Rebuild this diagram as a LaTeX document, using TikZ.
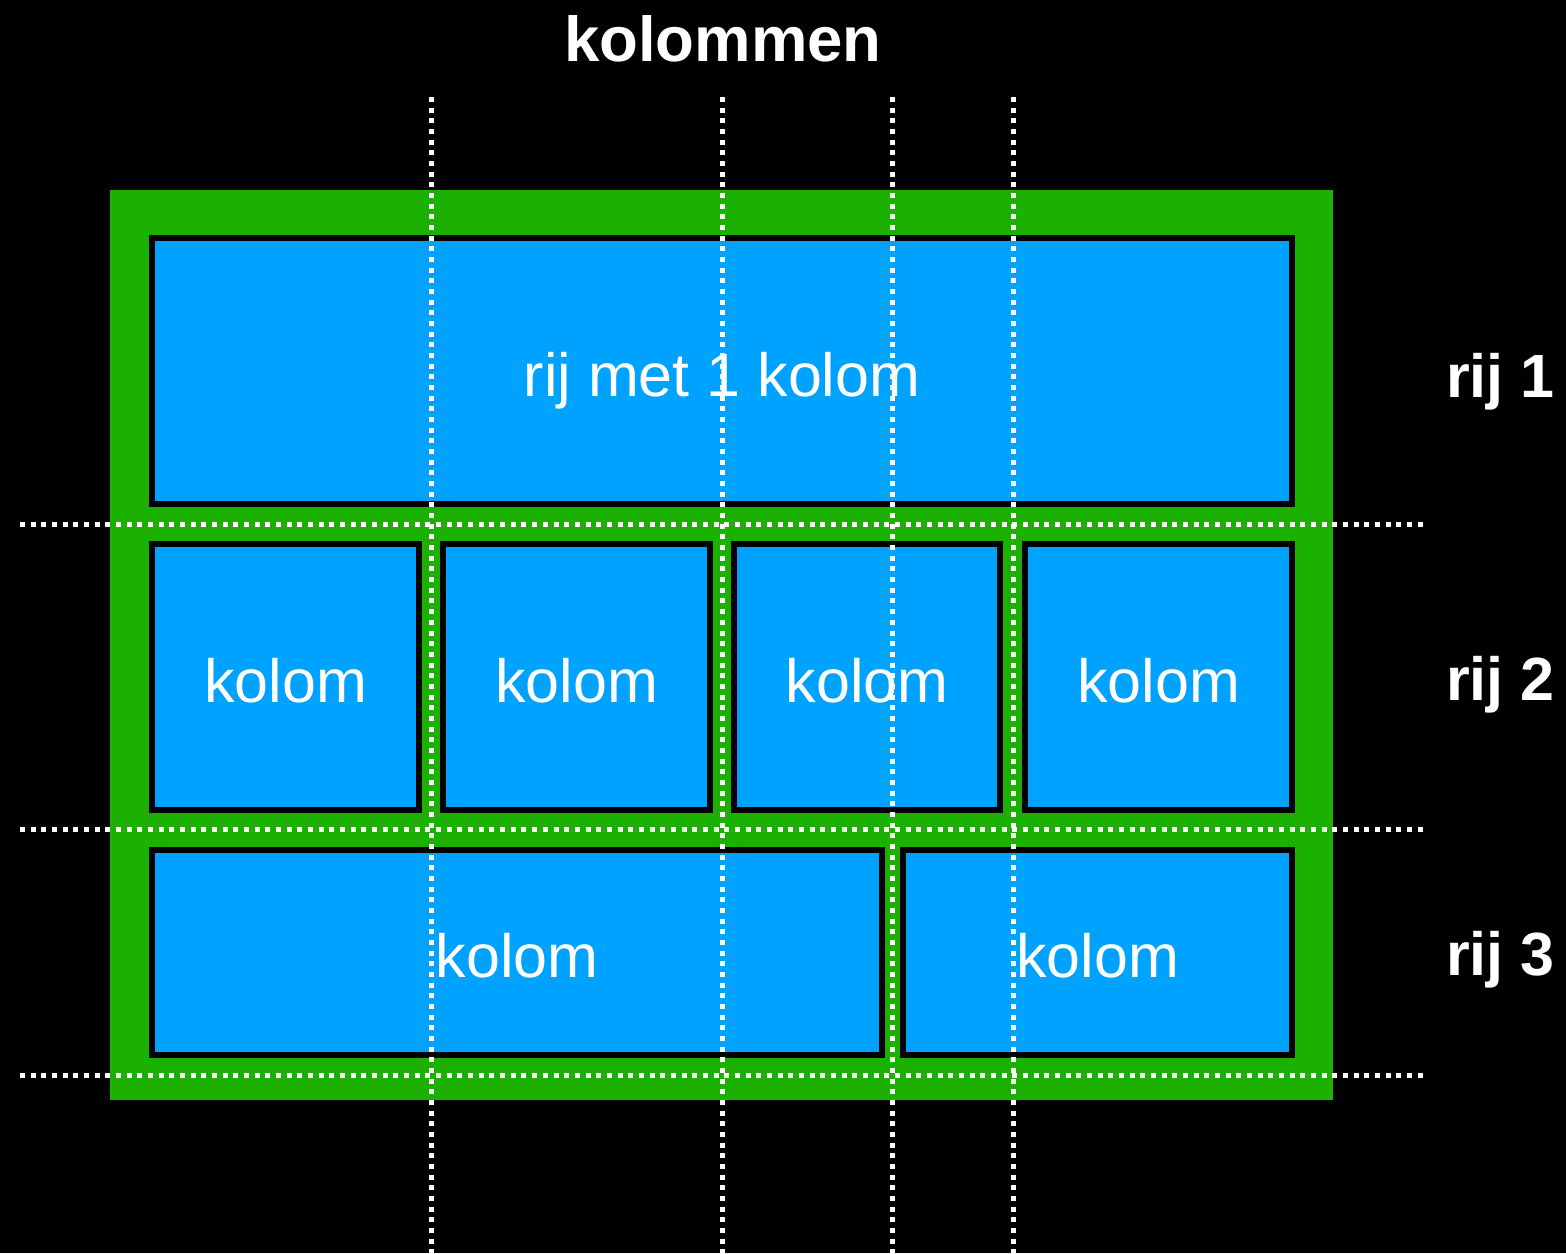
\documentclass[tikz,border=0pt]{standalone}
\usepackage{fontspec}
\setmainfont{Liberation Sans}
\definecolor{gridgreen}{RGB}{28,176,0}
\definecolor{cellblue}{RGB}{0,162,255}
\tikzset{
  cell/.style={draw=black, fill=cellblue, line width=6pt, text=white, inner sep=0pt, outer sep=0pt,
    font=\fontsize{61}{70}\selectfont, text height=50pt, text depth=0pt},
  rowlabel/.style={text=white, anchor=base west, inner sep=0pt, font=\fontsize{61}{70}\selectfont\bfseries},
  guide/.style={draw=white, line width=5pt, dash pattern=on 5pt off 5.67pt}
}
\begin{document}
\begin{tikzpicture}[x=1pt,y=-1pt]
\fill[black] (0,0) rectangle (1566,1253);
\useasboundingbox (0,0) rectangle (1566,1253);
% container
\node[fill=gridgreen, inner sep=0pt, outer sep=0pt, minimum width=1223pt, minimum height=910pt] (grid) at (721.5,645) {};
% row 1
\node[cell, minimum width=1140pt, minimum height=266pt] (r1) at (722,371) {rij met 1 kolom};
% row 2
\node[cell, minimum width=267pt, minimum height=266pt] (r2a) at (285.5,677) {kolom};
\node[cell, minimum width=267pt, minimum height=266pt] (r2b) at (576.5,677) {kolom};
\node[cell, minimum width=266pt, minimum height=266pt] (r2c) at (867,677) {kolom};
\node[cell, minimum width=267pt, minimum height=266pt] (r2d) at (1158.5,677) {kolom};
% row 3
\node[cell, minimum width=730pt, minimum height=205pt] (r3a) at (517,952.5) {kolom};
\node[cell, minimum width=389pt, minimum height=205pt] (r3b) at (1097.5,952.5) {kolom};
% labels
\node[text=white, anchor=base, inner sep=0pt, font=\fontsize{63.5}{70}\selectfont\bfseries] (title) at (723,61) {kolommen};
\node[rowlabel] (l1) at (1446,397) {rij 1};
\node[rowlabel] (l2) at (1446,700) {rij 2};
\node[rowlabel] (l3) at (1446,975) {rij 3};
% guide lines
\coordinate (v1t) at (431,97); \coordinate (v1b) at (431,1253);
\coordinate (v2t) at (722,97); \coordinate (v2b) at (722,1253);
\coordinate (v3t) at (892,97); \coordinate (v3b) at (892,1253);
\coordinate (v4t) at (1013,97); \coordinate (v4b) at (1013,1253);
\coordinate (h1l) at (20,524); \coordinate (h1r) at (1423,524);
\coordinate (h2l) at (20,829); \coordinate (h2r) at (1423,829);
\coordinate (h3l) at (20,1075); \coordinate (h3r) at (1423,1075);
\draw[guide] (v1t) -- (v1b);
\draw[guide] (v2t) -- (v2b);
\draw[guide] (v3t) -- (v3b);
\draw[guide] (v4t) -- (v4b);
\draw[guide] (h1l) -- (h1r);
\draw[guide] (h2l) -- (h2r);
\draw[guide] (h3l) -- (h3r);
\end{tikzpicture}
\end{document}
